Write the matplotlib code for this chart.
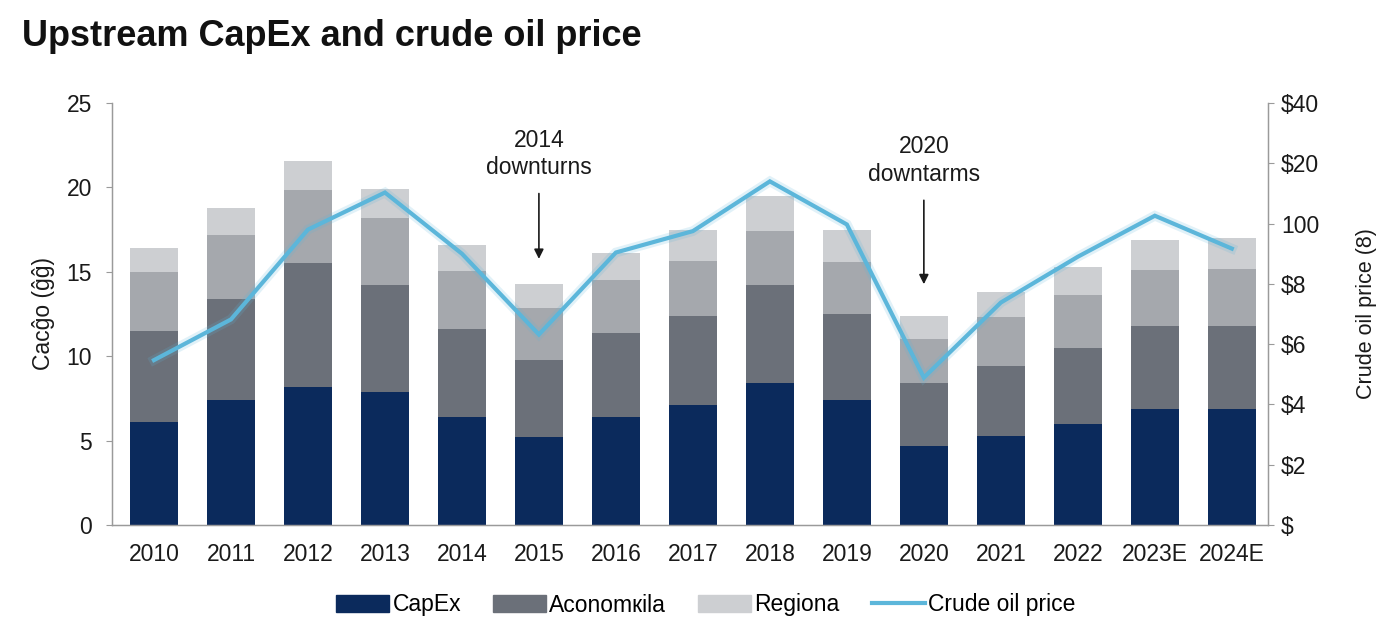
import matplotlib
matplotlib.use("Agg")
import matplotlib.pyplot as plt
import numpy as np
from matplotlib.patches import Patch
from matplotlib.lines import Line2D

plt.rcParams["font.family"] = ["Liberation Sans", "DejaVu Sans"]

years = ["2010", "2011", "2012", "2013", "2014", "2015", "2016", "2017",
         "2018", "2019", "2020", "2021", "2022", "2023E", "2024E"]
capex = [6.1, 7.4, 8.2, 7.9, 6.4, 5.2, 6.4, 7.1, 8.4, 7.4, 4.7, 5.3, 6.0, 6.9, 6.9]
aconomkila = [5.4, 6.0, 7.3, 6.3, 5.2, 4.6, 5.0, 5.3, 5.8, 5.1, 3.7, 4.1, 4.5, 4.9, 4.9]
other = [3.5, 3.8, 4.35, 4.0, 3.45, 3.05, 3.1, 3.25, 3.2, 3.1, 2.6, 2.9, 3.15, 3.3, 3.35]
regiona = [1.4, 1.55, 1.7, 1.7, 1.55, 1.4, 1.6, 1.8, 2.1, 1.9, 1.4, 1.5, 1.65, 1.8, 1.85]
oil_price = [54.7, 68.2, 98, 110.3, 90, 63.2, 90.4, 97.5, 114, 99.7, 48.9, 73.8, 89, 102.6, 91.7]
right_ticks = [0, 20, 40, 60, 80, 100, 120, 140]
right_labels = ["$", "$2", "$4", "$6", "$8", "100", "$20", "$40"]

c_navy = "#0b2a5c"
c_dark = "#6b7079"
c_mid = "#a5a8ad"
c_light = "#cdcfd2"
c_line = "#5cb6da"
c_axis = "#9a9a9a"
c_text = "#1a1a1a"
fs = 16.5

fig = plt.figure(figsize=(13.84, 6.26), dpi=100)
fig.patch.set_facecolor("white")
ax = fig.add_axes([112/1384, 1-525/626, (1268-112)/1384, (525-103)/626])
x = np.arange(len(years))
w = 0.62

b1 = np.array(capex)
b2 = b1 + np.array(aconomkila)
b3 = b2 + np.array(other)
ax.bar(x, capex, w, color=c_navy, zorder=2)
ax.bar(x, aconomkila, w, bottom=b1, color=c_dark, zorder=2)
ax.bar(x, other, w, bottom=b2, color=c_mid, zorder=2)
ax.bar(x, regiona, w, bottom=b3, color=c_light, zorder=2)

ax.set_xlim(-0.545, 14.47)
ax.set_ylim(0, 25)
ax.set_yticks([0, 5, 10, 15, 20, 25])
ax.set_xticks(x)
ax.set_xticklabels(years)
ax.tick_params(axis="x", length=0, pad=13, labelsize=fs, labelcolor=c_text)
ax.tick_params(axis="y", length=4.5, colors=c_axis, labelcolor=c_text, labelsize=fs, pad=10)
ax.spines["top"].set_visible(False)
for s in ["left", "right", "bottom"]:
    ax.spines[s].set_color(c_axis)
    ax.spines[s].set_linewidth(1.0)
ax.set_ylabel("Cacĝo (ĝĝ)", fontsize=fs, color=c_text, labelpad=8)

ax2 = ax.twinx()
ax2.set_ylim(0, 140)
ax2.set_yticks(right_ticks)
ax2.set_yticklabels(right_labels)
ax2.tick_params(axis="y", length=4.5, colors=c_axis, labelcolor=c_text, labelsize=fs, pad=5)
ax2.spines["top"].set_visible(False)
for s in ["left", "right", "bottom"]:
    ax2.spines[s].set_color(c_axis)
ax2.plot(x, oil_price, color=c_line, lw=7, alpha=0.18, zorder=3, solid_joinstyle="miter")
ax2.plot(x, oil_price, color=c_line, lw=3, zorder=4, solid_joinstyle="miter")
ax2.set_ylabel("Crude oil price (8)", fontsize=15.5, color=c_text, rotation=90, labelpad=26)

ax.text(5, 21.97, "2014\ndownturns", ha="center", va="center",
        fontsize=fs, color=c_text, linespacing=1.25, zorder=6)
ax.annotate("", xy=(5, 15.6), xytext=(5, 19.8),
            arrowprops=dict(arrowstyle="-|>", color=c_text, lw=1.2, mutation_scale=14), zorder=6)
ax.text(10, 21.6, "2020\ndowntarms", ha="center", va="center",
        fontsize=fs, color=c_text, linespacing=1.25, zorder=6)
ax.annotate("", xy=(10, 14.1), xytext=(10, 19.4),
            arrowprops=dict(arrowstyle="-|>", color=c_text, lw=1.2, mutation_scale=14), zorder=6)

fig.text(22/1384, 1-37/626, "Upstream CapEx and crude oil price", fontsize=26,
         fontweight="bold", ha="left", va="center", color="#111111")

handles = [Patch(color=c_navy, label="CapEx"),
           Patch(color=c_dark, label="Aconomкila"),
           Patch(color=c_light, label="Regiona"),
           Line2D([0], [0], color=c_line, lw=3, label="Crude oil price")]
fig.legend(handles=handles, loc="center", bbox_to_anchor=(0.51, 1-605/626), ncol=4,
           frameon=False, fontsize=fs, handlelength=2.3, handleheight=0.7,
           columnspacing=1.4, handletextpad=0.15)

fig.savefig("out.png", dpi=100, facecolor="white")
